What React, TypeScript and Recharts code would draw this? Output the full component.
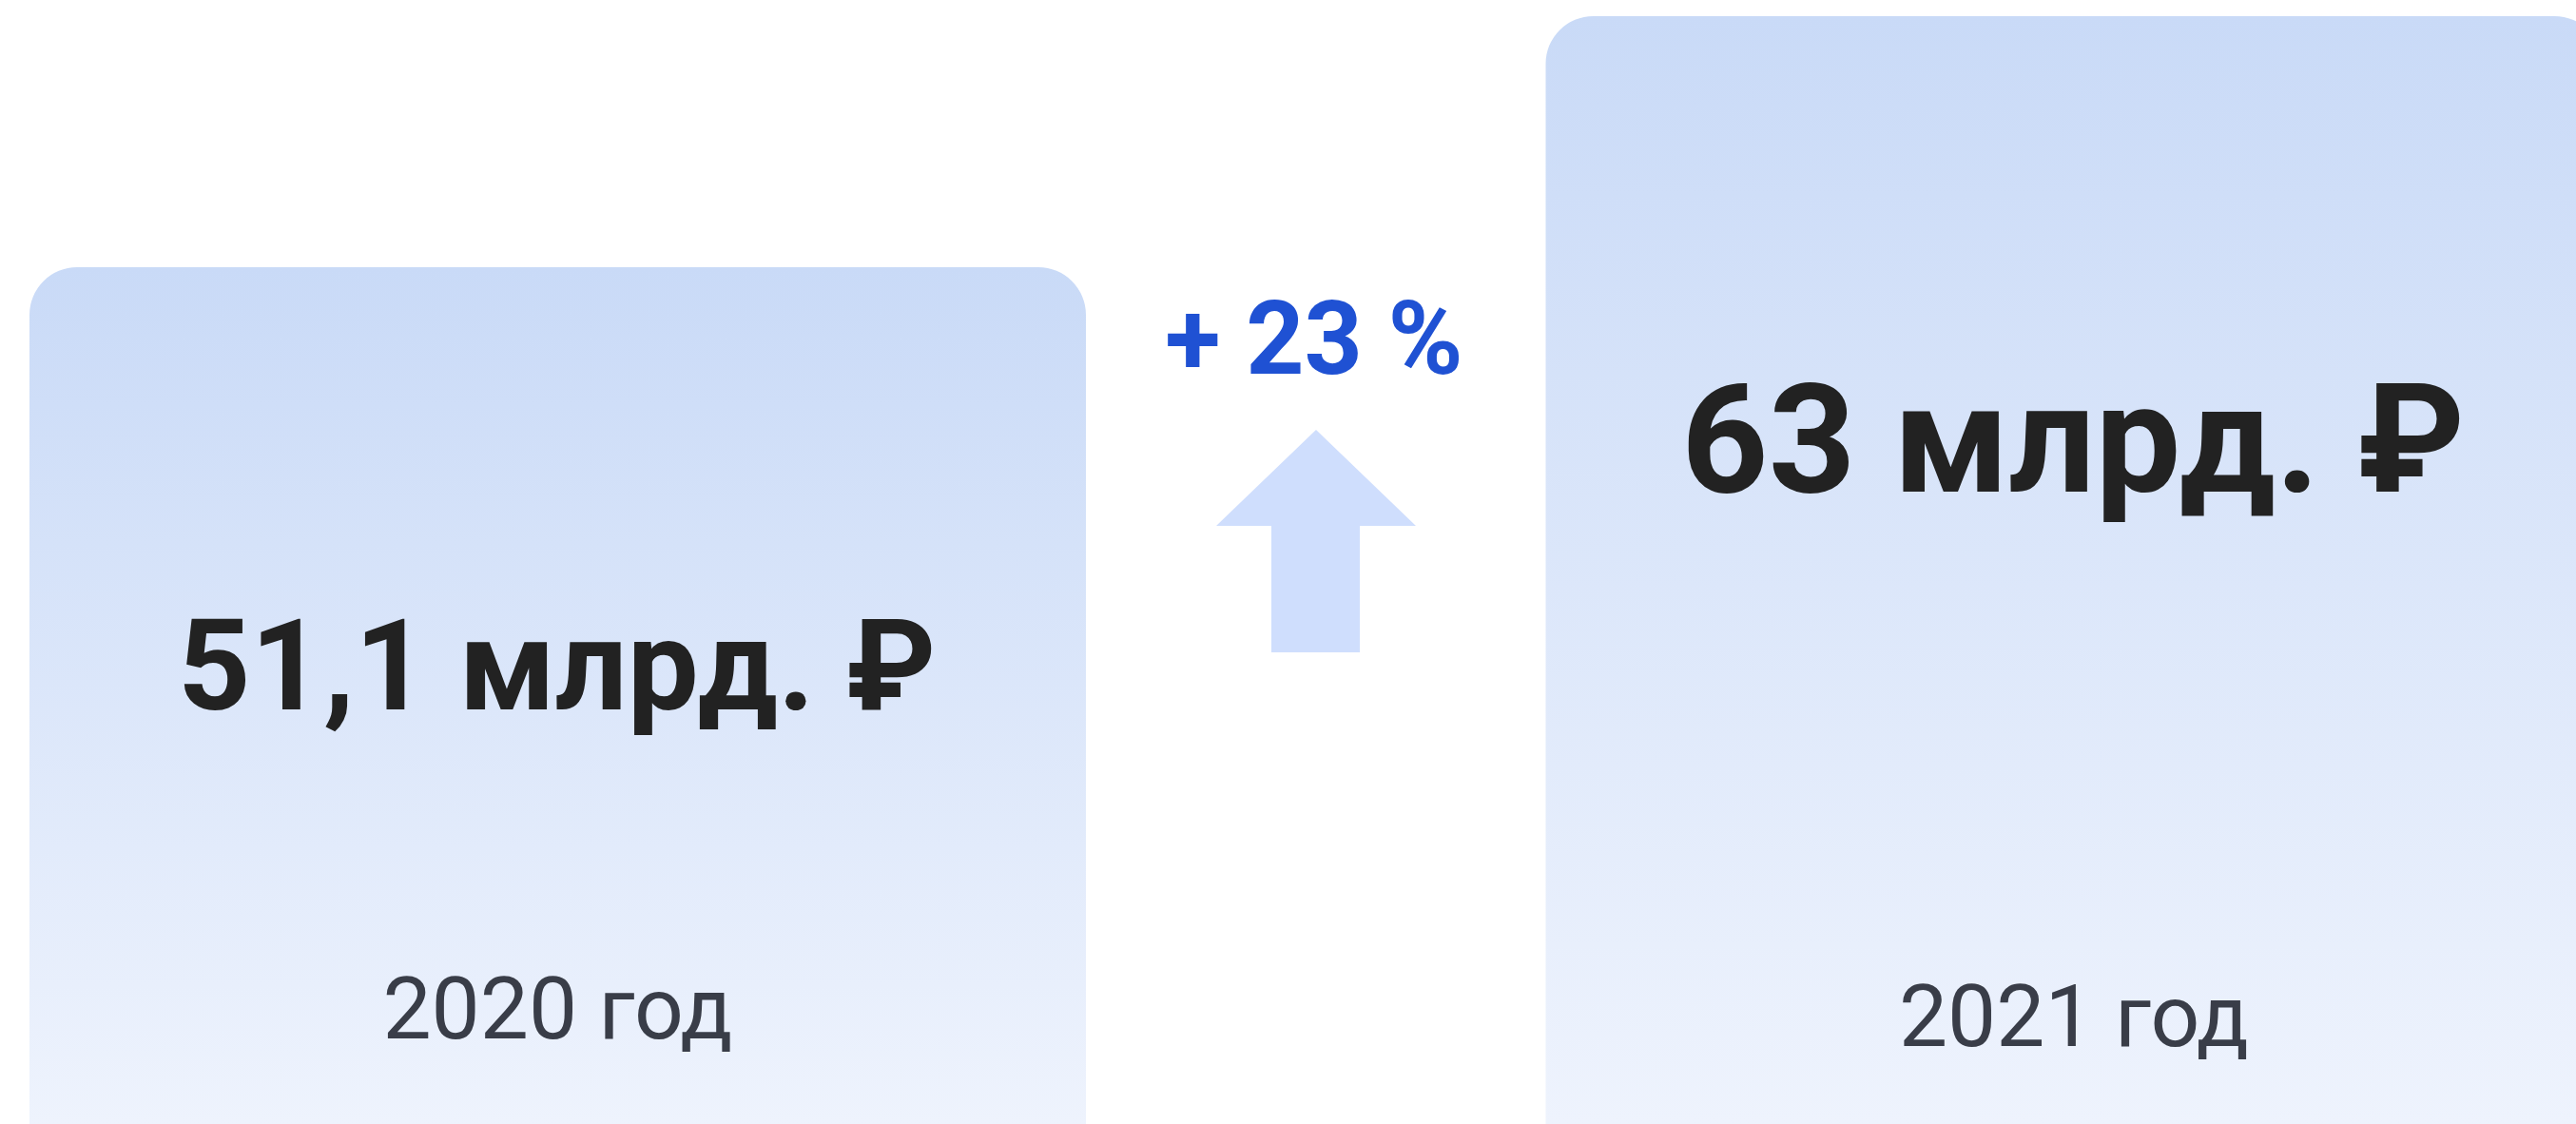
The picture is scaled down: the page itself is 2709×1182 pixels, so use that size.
import React from "react";
import { BarChart, Bar, XAxis, YAxis } from "recharts";

const years = ["2020", "2021"];
const values = [51.1, 63];
const unitLabel = "млрд. ₽";
const yearSuffix = "год";

const data = years.map((year, i) => ({ year, value: values[i] }));

const W = 2709;
const H = 1182;

const valueFontSizes = [133.5, 160];
const valueBaselineOffsets = [465, 500];
const yearBaselineOffsets = [90, 82];

const fmt = (v: number) => String(v).replace(".", ",");

const growthPct = Math.round((values[1] / values[0] - 1) * 100);

function BarLabel(props: any) {
  const { x, y, width, height, index } = props;
  const cx = Number(x) + Number(width) / 2;
  const bottom = Number(y) + Number(height);
  const i = Number(index);
  const v = values[i];
  const gap = 483;
  const mx = Number(x) - gap / 2;
  return (
    <g>
      <text
        x={cx - 1}
        y={Number(y) + valueBaselineOffsets[i]}
        textAnchor="middle"
        fontFamily="Roboto"
        fontWeight={700}
        fontSize={valueFontSizes[i]}
        fill="#222222"
      >
        {`${fmt(v)} ${unitLabel}`}
      </text>
      <text
        x={cx}
        y={bottom - yearBaselineOffsets[i]}
        textAnchor="middle"
        fontFamily="Roboto"
        fontWeight={400}
        fontSize={91}
        fill="#393d48"
      >
        {`${years[i]} ${yearSuffix}`}
      </text>
      {i === 1 && (
        <g>
          <text
            x={mx - 2}
            y={393}
            textAnchor="middle"
            fontFamily="Roboto"
            fontWeight={700}
            fontSize={107}
            fill="#1f51d3"
          >
            {`+ ${growthPct} %`}
          </text>
          <polygon
            points={`${mx},452 ${mx + 105},553 ${mx + 46},553 ${mx + 46},686 ${mx - 47},686 ${mx - 47},553 ${mx - 105},553`}
            fill="#cfdefd"
          />
        </g>
      )}
    </g>
  );
}

export default function App() {
  return (
    <div style={{ position: "absolute", left: 0, top: 0, width: W, height: H, background: "#ffffff" }}>
      <BarChart
        width={W}
        height={H}
        data={data}
        margin={{ top: 0, right: -269, bottom: 0, left: -211 }}
      >
        <defs>
          <linearGradient id="barGrad" x1="0" y1="0" x2="0" y2="1">
            <stop offset="0%" stopColor="#c9daf7" />
            <stop offset="100%" stopColor="#eef3fd" />
          </linearGradient>
        </defs>
        <XAxis dataKey="year" hide />
        <YAxis hide domain={[10.49, 63.766]} allowDataOverflow />
        <Bar
          dataKey="value"
          barSize={1111}
          fill="url(#barGrad)"
          radius={[50, 50, 0, 0]}
          isAnimationActive={false}
          label={(p: any) => <BarLabel {...p} />}
        />
      </BarChart>
    </div>
  );
}
